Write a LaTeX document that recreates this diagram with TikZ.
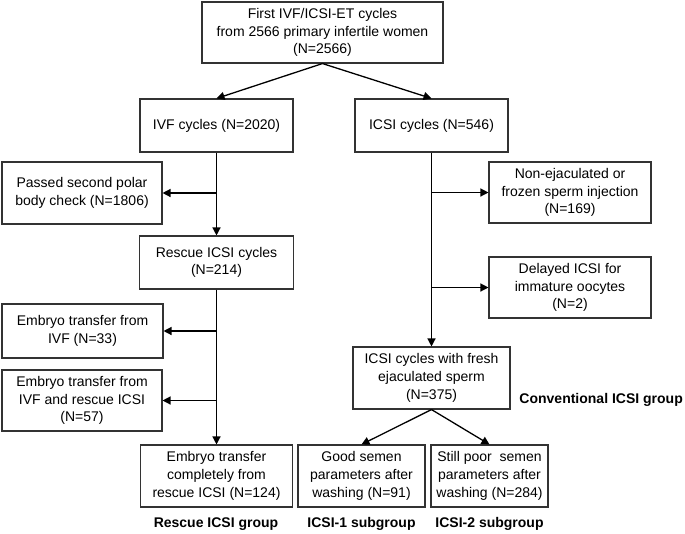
\documentclass[tikz,border=0pt]{standalone}
\usepackage{fontspec}
\setmainfont{Liberation Sans}
\usetikzlibrary{arrows.meta}
\tikzset{
  box/.style={draw=black!80,line width=1.1pt,align=center,inner sep=0pt,
    font=\fontsize{14}{17.7}\selectfont},
  grp/.style={inner sep=0pt,font=\fontsize{14}{17}\selectfont\bfseries},
  arr/.style={-{Triangle[length=8pt,width=8pt]},line width=1.3pt}
}
\begin{document}
\begin{tikzpicture}[x=1pt,y=-1pt]
  \useasboundingbox (0,0) rectangle (685,533);
  % top
  \node[box,minimum width=241pt,minimum height=61pt] (all) at (322.5,32.5)
    {First IVF/ICSI-ET cycles\\from 2566 primary infertile women\\(N=2566)};
  \node[box,minimum width=153pt,minimum height=53pt] (ivf) at (216.5,125.5) {IVF cycles (N=2020)};
  \node[box,minimum width=153pt,minimum height=53pt] (icsi) at (431.5,125.5) {ICSI cycles (N=546)};
  \draw[arr] (all.south) -- (ivf.north);
  \draw[arr] (all.south) -- (icsi.north);
  % IVF branch
  \node[box,minimum width=160pt,minimum height=62pt] (passed) at (82,193) {Passed second polar\\body check (N=1806)};
  \node[box,minimum width=154pt,minimum height=53pt] (rescue) at (216.5,262.5) {Rescue ICSI cycles\\(N=214)};
  \node[box,minimum width=161pt,minimum height=54pt] (etivf) at (82.5,331) {Embryo transfer from\\IVF (N=33)};
  \node[box,minimum width=160pt,minimum height=61pt] (etboth) at (82,400.5) {Embryo transfer from\\IVF and rescue ICSI\\(N=57)};
  \node[box,minimum width=152pt,minimum height=62pt] (etrescue) at (216.5,476) {Embryo transfer\\completely from\\rescue ICSI (N=124)};
  \draw[arr] (ivf.south) -- (rescue.north);
  \draw[arr] (ivf.south |- passed.east) -- (passed.east);
  \draw[arr] (rescue.south) -- (etrescue.north);
  \draw[arr] (rescue.south |- etivf.east) -- (etivf.east);
  \draw[arr] (rescue.south |- etboth.east) -- (etboth.east);
  % ICSI branch
  \node[box,minimum width=162pt,minimum height=61pt] (nonej) at (570,192.5) {Non-ejaculated or\\frozen sperm injection\\(N=169)};
  \node[box,minimum width=162pt,minimum height=61pt] (delayed) at (570,287.5) {Delayed ICSI for\\immature oocytes\\(N=2)};
  \node[box,minimum width=157pt,minimum height=62pt] (fresh) at (431.5,378) {ICSI cycles with fresh\\ejaculated sperm\\(N=375)};
  \node[box,minimum width=127pt,minimum height=62pt] (good) at (361.5,476) {Good semen\\parameters after\\washing (N=91)};
  \node[box,minimum width=117pt,minimum height=62pt] (poor) at (489.5,476) {Still poor~ semen\\parameters after\\washing (N=284)};
  \draw[arr] (icsi.south) -- (fresh.north);
  \draw[arr] (icsi.south |- nonej.west) -- (nonej.west);
  \draw[arr] (icsi.south |- delayed.west) -- (delayed.west);
  \draw[arr] (fresh.south) -- (good.north);
  \draw[arr] (fresh.south) -- (poor.north);
  % group labels
  \node[grp,anchor=east] (conv) at (683,400) {Conventional ICSI group};
  \node[grp] (rgrp) at (216,524) {Rescue ICSI group};
  \node[grp] (g1) at (361.5,524) {ICSI-1 subgroup};
  \node[grp] (g2) at (489.5,524) {ICSI-2 subgroup};
\end{tikzpicture}
\end{document}
